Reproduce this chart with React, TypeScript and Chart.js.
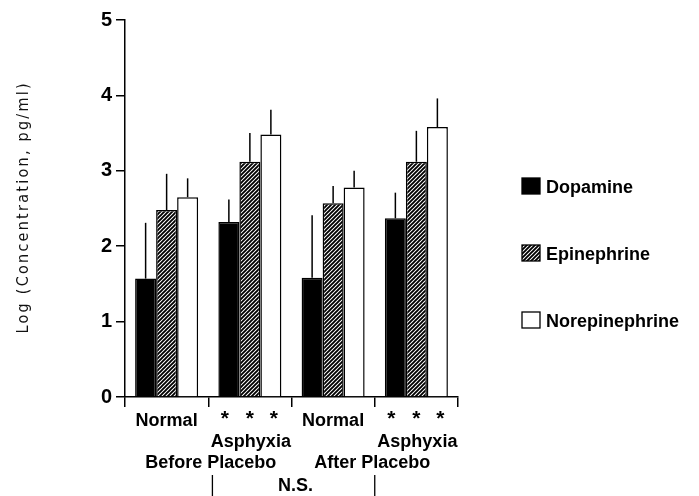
import React, { useEffect, useRef } from "react";
import { Chart, registerables } from "chart.js";

Chart.register(...registerables);

const categories = ["Before Normal", "Before Asphyxia Placebo", "After Normal", "After Asphyxia Placebo"];
const seriesNames = ["Dopamine", "Epinephrine", "Norepinephrine"];
const dopamine = [1.57, 2.32, 1.58, 2.37];
const dopamineSD = [0.74, 0.3, 0.83, 0.34];
const epinephrine = [2.48, 3.12, 2.57, 3.12];
const epinephrineSD = [0.48, 0.38, 0.23, 0.41];
const norepinephrine = [2.65, 3.48, 2.78, 3.58];
const norepinephrineSD = [0.25, 0.33, 0.22, 0.38];
const yTicks = [0, 1, 2, 3, 4, 5];
const upperLabels = ["Normal", "", "Normal", ""];
const lowerLabels = ["", "Asphyxia", "", "Asphyxia"];
const significant = [false, true, false, true];
const periodLabels = ["Before Placebo", "After Placebo"];
const nsLabel = "N.S.";
const yTitle = "Log (Concentration, pg/ml)";

const BOLD = 'bold 18px "Liberation Sans", Arial, sans-serif';

function makeHatch(): CanvasPattern | string {
  const c = document.createElement("canvas");
  c.width = 4;
  c.height = 4;
  const g = c.getContext("2d");
  if (!g) return "#777";
  g.fillStyle = "#fff";
  g.fillRect(0, 0, 4, 4);
  g.strokeStyle = "#000";
  g.lineWidth = 1.9;
  g.beginPath();
  g.moveTo(-1, 5);
  g.lineTo(5, -1);
  g.moveTo(-1, 1);
  g.lineTo(1, -1);
  g.moveTo(3, 5);
  g.lineTo(5, 3);
  g.stroke();
  return g.createPattern(c, "repeat") || "#777";
}

export default function App() {
  const ref = useRef<HTMLCanvasElement | null>(null);
  useEffect(() => {
    if (!ref.current) return;
    const hatch = makeHatch();

    const errorBars = {
      id: "errorBars",
      afterDatasetsDraw(chart: any) {
        const ctx = chart.ctx;
        const y = chart.scales.y;
        ctx.save();
        ctx.strokeStyle = "#000";
        ctx.lineWidth = 1.5;
        chart.data.datasets.forEach((ds: any, i: number) => {
          const meta = chart.getDatasetMeta(i);
          meta.data.forEach((bar: any, j: number) => {
            const top = y.getPixelForValue(ds.data[j] + ds.errors[j]);
            ctx.beginPath();
            ctx.moveTo(bar.x, bar.y);
            ctx.lineTo(bar.x, top);
            ctx.stroke();
          });
        });
        ctx.restore();
      },
    };

    const annotations = {
      id: "annotations",
      afterDraw(chart: any) {
        const ctx = chart.ctx;
        const x = chart.scales.x;
        const area = chart.chartArea;
        ctx.save();
        ctx.fillStyle = "#000";
        ctx.textAlign = "center";
        ctx.textBaseline = "alphabetic";
        categories.forEach((_, i) => {
          const cx = x.getPixelForValue(i);
          ctx.font = BOLD;
          if (upperLabels[i]) ctx.fillText(upperLabels[i], cx, 426);
          if (lowerLabels[i]) ctx.fillText(lowerLabels[i], cx + 1, 447);
          if (significant[i]) {
            ctx.font = 'bold 21px "Liberation Sans", Arial, sans-serif';
            [-25, 0, 24].forEach((d) => ctx.fillText("*", cx + d, 425));
          }
        });
        ctx.font = BOLD;
        ctx.fillText(periodLabels[0], x.getPixelForValue(0.53), 468);
        ctx.fillText(periodLabels[1], x.getPixelForValue(2.47), 468);
        const l1 = x.getPixelForValue(0.55);
        const l2 = x.getPixelForValue(2.5);
        ctx.strokeStyle = "#000";
        ctx.lineWidth = 1.3;
        ctx.beginPath();
        ctx.moveTo(l1, 475);
        ctx.lineTo(l1, 496);
        ctx.moveTo(l2, 475);
        ctx.lineTo(l2, 496);
        ctx.stroke();
        ctx.fillText(nsLabel, (l1 + l2) / 2 + 2, 491);

        // y title, stretched to span the reference length
        ctx.save();
        ctx.translate(24, (area.top + area.bottom) / 2);
        ctx.rotate(-Math.PI / 2);
        ctx.font = '16px "DejaVu Sans Condensed", "DejaVu Sans", sans-serif';
        const w = ctx.measureText(yTitle).width;
        const sp = Math.max(0, (250 - w) / (yTitle.length - 1));
        (ctx as any).letterSpacing = sp.toFixed(2) + "px";
        ctx.fillStyle = "#111";
        ctx.textBaseline = "middle";
        ctx.textAlign = "left";
        ctx.fillText(yTitle, -125, 0);
        ctx.restore();

        // legend
        chart.data.datasets.forEach((ds: any, i: number) => {
          const base = 193 + i * 67;
          const bx = 522;
          const by = base - 15;
          ctx.fillStyle = ds.backgroundColor;
          ctx.fillRect(bx, by, 18, 16);
          ctx.strokeStyle = "#000";
          ctx.lineWidth = 1.3;
          ctx.strokeRect(bx, by, 18, 16);
          ctx.fillStyle = "#000";
          ctx.font = BOLD;
          ctx.textAlign = "left";
          ctx.fillText(ds.label, 546, base);
        });
        ctx.restore();
      },
    };

    const chart = new Chart(ref.current, {
      type: "bar",
      data: {
        labels: categories,
        datasets: [
          { label: seriesNames[0], data: dopamine, errors: dopamineSD, backgroundColor: "#000" } as any,
          { label: seriesNames[1], data: epinephrine, errors: epinephrineSD, backgroundColor: hatch } as any,
          { label: seriesNames[2], data: norepinephrine, errors: norepinephrineSD, backgroundColor: "#fff" } as any,
        ].map((d) => ({
          ...d,
          borderColor: "#000",
          borderWidth: 1.5,
          categoryPercentage: 0.757,
          barPercentage: 1.0,
        })),
      },
      options: {
        animation: false,
        responsive: true,
        maintainAspectRatio: false,
        layout: { padding: { top: 20, right: 241, left: 0, bottom: 0 } },
        plugins: { legend: { display: false }, tooltip: { enabled: false } },
        scales: {
          x: {
            type: "category",
            offset: true,
            ticks: { display: false },
            grid: {
              offset: true,
              drawOnChartArea: false,
              drawTicks: true,
              tickLength: 10,
              color: "#000",
              lineWidth: 1.5,
            },
            border: { display: true, color: "#000", width: 1.5 },
            afterFit: (s: any) => {
              s.height = 99;
            },
          },
          y: {
            min: 0,
            max: 5,
            afterBuildTicks: (s: any) => {
              s.ticks = yTicks.map((v) => ({ value: v }));
            },
            ticks: {
              color: "#000",
              font: { family: '"Liberation Sans", Arial, sans-serif', size: 20, weight: "bold" },
              padding: 4,
            },
            grid: {
              drawOnChartArea: false,
              drawTicks: true,
              tickLength: 9,
              color: "#000",
              lineWidth: 1.5,
            },
            border: { display: true, color: "#000", width: 1.5 },
            afterFit: (s: any) => {
              s.width = 125;
            },
          },
        },
      },
      plugins: [errorBars, annotations],
    } as any);
    return () => chart.destroy();
  }, []);

  return (
    <div style={{ position: "fixed", left: 0, top: 0, width: 699, height: 496, background: "#fff" }}>
      <canvas ref={ref} />
    </div>
  );
}
